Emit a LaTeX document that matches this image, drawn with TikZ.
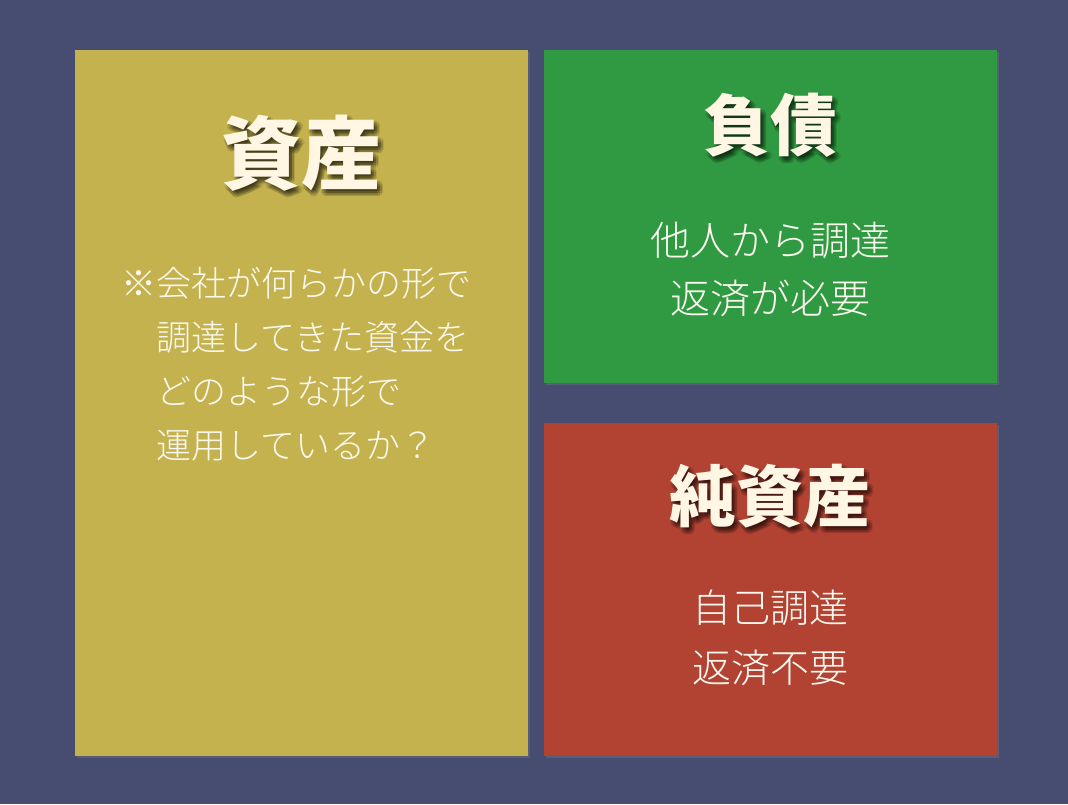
\documentclass[tikz,border=0pt]{standalone}
\usepackage{fontspec}
\newfontfamily\cjk{Noto Sans CJK JP}
\newfontfamily\cjklight{Noto Sans CJK JP Light}
\usetikzlibrary{shadows}
\definecolor{bgnavy}{HTML}{464D70}
\definecolor{assetgold}{HTML}{C4B24F}
\definecolor{liabgreen}{HTML}{2F9A41}
\definecolor{equityred}{HTML}{B24332}
\definecolor{cream}{HTML}{FFF6E4}
\definecolor{softwhite}{HTML}{FBF8F0}
\tikzstyle{card}=[anchor=north west, inner sep=0pt, minimum width=453pt,
    drop shadow={shadow xshift=2pt, shadow yshift=-2pt, opacity=.35}]
\tikzstyle{card title}=[text=cream, inner sep=0pt,
    font=\cjk\bfseries\fontsize{#1}{#1}\selectfont]
\tikzstyle{title shadow}=[card title=#1, text=black, opacity=.11]
\tikzstyle{card text}=[text=softwhite, inner sep=0pt, align=center]

\begin{document}
\begin{tikzpicture}[x=1pt,y=-1pt]
  \fill[bgnavy] (0,0) rectangle (1068,804);
  \useasboundingbox (0,0) rectangle (1068,804);
  % the three cards
  \node[card, fill=assetgold, minimum height=706pt] (asset) at (75,50) {};
  \node[card, fill=liabgreen, minimum height=333pt] (liab) at (544,50) {};
  \node[card, fill=equityred, minimum height=333pt] (equity) at (544,423) {};
  % soft shadows under the titles
  \foreach \dx/\dy in {3/-4,1/-2,5/-2,1/-6,5/-6,3/-1,3/-7,0/-4,6/-4} {
    \node[title shadow=80, xshift=\dx pt, yshift=\dy pt] at (301.5,153) {資産};
    \node[title shadow=67, xshift=\dx pt, yshift=\dy pt] at (770,125) {負債};
    \node[title shadow=67, xshift=\dx pt, yshift=\dy pt] at (770,496) {純資産};
  }
  % titles
  \node[card title=80] (asset-title) at (301.5,153) {資産};
  \node[card title=67] (liab-title) at (770,125) {負債};
  \node[card title=67] (equity-title) at (770,496) {純資産};
  % body texts
  \node[card text, align=left, anchor=west, font=\cjklight\fontsize{35}{54}\selectfont]
    (asset-text) at (121,364)
    {※会社が何らかの形で\\\hspace*{1em}調達してきた資金を\\\hspace*{1em}どのような形で\\\hspace*{1em}運用しているか？};
  \node[card text, font=\cjklight\fontsize{40}{58}\selectfont]
    (liab-text) at (770,269) {他人から調達\\返済が必要};
  \node[card text, font=\cjklight\fontsize{39}{60}\selectfont]
    (equity-text) at (770,638) {自己調達\\返済不要};
\end{tikzpicture}
\end{document}
